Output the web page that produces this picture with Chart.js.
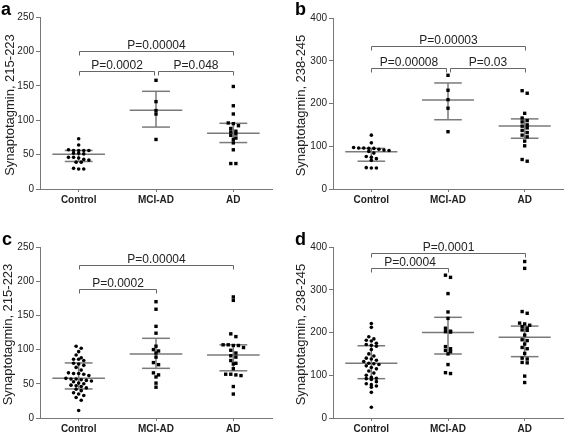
<!DOCTYPE html>
<html>
<head>
<meta charset="utf-8">
<script src="https://cdn.jsdelivr.net/npm/chart.js@4"></script>
<style>
  body { margin: 0; background: #fff; }
  .panel { position: absolute; }
</style>
</head>
<body>
<div class="panel" style="left:0;top:0"><canvas id="chartA" width="284" height="217"></canvas></div>
<div class="panel" style="left:284px;top:0"><canvas id="chartB" width="283" height="217"></canvas></div>
<div class="panel" style="left:0;top:217px"><canvas id="chartC" width="284" height="217"></canvas></div>
<div class="panel" style="left:284px;top:217px"><canvas id="chartD" width="283" height="217"></canvas></div>
<script>
const groups = ['Control', 'MCI-AD', 'AD'];

// panel a
const aControl = [73, 64, 57, 56, 56, 56, 56, 52, 52, 51, 46, 46, 45, 43, 42, 39, 39, 30, 29, 29];
const aMciAd = [158, 127, 114, 109, 72];
const aAd = [149, 121, 109, 96, 95, 92, 88, 84, 83, 80, 78, 74, 72, 67, 57, 37, 37];
const aCenter = [50.5, 114.6, 81];
const aLow = [40, 90, 67.5];
const aHigh = [56, 142, 95.5];
const aTicks = [0, 50, 100, 150, 200, 250];
const aBrackets = [[0, 2, 201, 'P=0.00004'], [0, 0.98, 172, 'P=0.0002'], [1.02, 2, 172, 'P=0.048']];

// panel b
const bControl = [126, 108, 97, 96, 96, 95, 95, 93, 91, 90, 88, 84, 76, 74, 71, 67, 50, 49, 49];
const bMciAd = [266, 231, 209, 189, 134];
const bAd = [230, 224, 177, 166, 160, 157, 150, 147, 143, 137, 132, 126, 122, 112, 101, 69, 65];
const bCenter = [87, 208, 147.6];
const bLow = [65, 162, 118.7];
const bHigh = [95, 248, 164];
const bTicks = [0, 100, 200, 300, 400];
const bBrackets = [[0, 2, 334, 'P=0.00003'], [0, 0.98, 283, 'P=0.00008'], [1.02, 2, 283, 'P=0.03']];

// panel c
const cControl = [105, 102, 97, 92, 88, 86, 86, 84, 80, 79, 77, 74, 70, 66, 65, 65, 64, 62, 58, 57,
                  57, 56, 55, 54, 53, 51, 50, 48, 47, 46, 44, 42, 40, 37, 35, 33, 30, 26, 11];
const cMciAd = [170, 159, 134, 124, 105, 100, 98, 95, 89, 81, 78, 66, 63, 60, 51, 45];
const cAd = [177, 172, 123, 119, 107, 107, 106, 106, 103, 99, 95, 91, 89, 84, 80, 79, 72, 64, 64, 63, 62, 46, 35];
const cCenter = [58, 93.6, 92];
const cLow = [42.5, 72.6, 69];
const cHigh = [80.5, 116.5, 107];
const cTicks = [0, 50, 100, 150, 200, 250];
const cBrackets = [[0, 2, 224, 'P=0.00004'], [0, 1, 189, 'P=0.0002']];

// panel d
const dControl = [221, 212, 190, 185, 182, 180, 175, 172, 170, 168, 160, 150, 145, 140, 138, 135, 132, 128, 127,
                  125, 122, 118, 115, 110, 105, 100, 95, 93, 92, 90, 85, 80, 78, 75, 72, 60, 25];
const dMciAd = [334, 329, 291, 248, 233, 210, 203, 202, 201, 167, 162, 158, 155, 150, 125, 106, 104];
const dAd = [366, 350, 249, 245, 222, 220, 217, 214, 210, 206, 205, 194, 183, 181, 173, 165, 162, 151, 140, 138, 130, 129, 98, 83];
const dCenter = [128, 200, 188.7];
const dLow = [92, 149.7, 143.5];
const dHigh = [169, 235.5, 215];
const dTicks = [0, 100, 200, 300, 400];
const dBrackets = [[0, 2, 387, 'P=0.0001'], [0, 1, 352, 'P=0.0004']];

const FONT = '"Liberation Sans", Arial, sans-serif';

// GraphPad style scatter: values closer than a marker go side by side in one row
function spread(vals, gi, yMax, plotH) {
  const tol = yMax / plotH * 3;
  const sorted = [...vals].sort((a, b) => b - a);
  const pts = [];
  let row = [];
  const flush = () => {
    row.forEach((v, i) => pts.push({ x: gi + (i - (row.length - 1) / 2) * 0.066, y: v }));
    row = [];
  };
  sorted.forEach(v => {
    if (row.length && row[0] - v > tol) flush();
    row.push(v);
  });
  flush();
  return pts;
}

function makePanel(id, p) {
  const plotH = p.height - p.top - p.xh;
  const yMax = p.ticks[p.ticks.length - 1];
  const datasets = p.values.map((vals, gi) => ({
    data: spread(vals, gi, yMax, plotH),
    pointStyle: gi === 0 ? 'circle' : 'rect',
    pointRadius: gi === 0 ? 1.8 : 2.4,
    backgroundColor: '#000',
    borderWidth: 0
  }));

  const extras = {
    id: 'extras',
    beforeDatasetsDraw(chart) {
      const ctx = chart.ctx, xs = chart.scales.x, ys = chart.scales.y;
      ctx.save();
      ctx.strokeStyle = '#7a7a7a';
      ctx.lineWidth = 1.5;
      p.center.forEach((c, gi) => {
        const x = xs.getPixelForValue(gi);
        const line = (w, v) => {
          ctx.beginPath();
          ctx.moveTo(xs.getPixelForValue(gi - w), ys.getPixelForValue(v));
          ctx.lineTo(xs.getPixelForValue(gi + w), ys.getPixelForValue(v));
          ctx.stroke();
        };
        line(0.34, c);
        line(0.18, p.low[gi]);
        line(0.18, p.high[gi]);
        ctx.beginPath();
        ctx.moveTo(x, ys.getPixelForValue(p.low[gi]));
        ctx.lineTo(x, ys.getPixelForValue(p.high[gi]));
        ctx.stroke();
      });
      ctx.restore();
    },
    afterDatasetsDraw(chart) {
      const ctx = chart.ctx, xs = chart.scales.x, ys = chart.scales.y, area = chart.chartArea;
      ctx.save();
      // significance brackets
      ctx.strokeStyle = '#666';
      ctx.lineWidth = 1;
      ctx.fillStyle = '#222';
      ctx.font = '12px ' + FONT;
      ctx.textAlign = 'center';
      ctx.textBaseline = 'alphabetic';
      p.brackets.forEach(([from, to, v, label]) => {
        const x1 = Math.round(xs.getPixelForValue(from)) + 0.5;
        const x2 = Math.round(xs.getPixelForValue(to)) + 0.5;
        const y = Math.round(ys.getPixelForValue(v)) + 0.5;
        ctx.beginPath();
        ctx.moveTo(x1, y + 4);
        ctx.lineTo(x1, y);
        ctx.lineTo(x2, y);
        ctx.lineTo(x2, y + 4);
        ctx.stroke();
        ctx.fillText(label, (x1 + x2) / 2, y - 3);
      });
      // y title
      ctx.font = '13px ' + FONT;
      ctx.translate(p.titleX, (area.top + area.bottom) / 2 + 2);
      ctx.rotate(-Math.PI / 2);
      ctx.textBaseline = 'middle';
      ctx.fillText(p.title, 0, 0);
      ctx.restore();
      // panel letter
      ctx.save();
      ctx.font = 'bold 18px ' + FONT;
      ctx.fillStyle = '#000';
      ctx.textAlign = 'left';
      ctx.fillText(p.letter, p.letterX, p.letterY);
      ctx.restore();
    }
  };

  new Chart(document.getElementById(id), {
    type: 'scatter',
    data: { datasets },
    options: {
      responsive: false,
      animation: false,
      layout: { padding: { top: p.top, right: p.right, left: 0, bottom: 0 } },
      plugins: { legend: { display: false }, tooltip: { enabled: false } },
      scales: {
        x: {
          type: 'linear', min: -0.5, max: 2.5,
          afterBuildTicks: s => { s.ticks = [0, 1, 2].map(v => ({ value: v })); },
          afterFit: s => { s.height = p.xh; },
          grid: { display: true, drawOnChartArea: false, drawTicks: true, tickLength: 3, color: '#777' },
          border: { color: '#777', width: 1 },
          ticks: {
            callback: v => groups[v], autoSkip: false, maxRotation: 0, padding: 2,
            color: '#222', font: { family: FONT, weight: 'bold', size: 10 }
          }
        },
        y: {
          min: 0, max: yMax,
          afterBuildTicks: s => { s.ticks = p.ticks.map(v => ({ value: v })); },
          afterFit: s => { s.width = p.left; },
          grid: { display: true, drawOnChartArea: false, drawTicks: true, tickLength: 4, color: '#777' },
          border: { color: '#777', width: 1 },
          ticks: { padding: 2, color: '#222', font: { family: FONT, size: 10 } }
        }
      }
    },
    plugins: [extras]
  });
}

makePanel('chartA', {
  values: [aControl, aMciAd, aAd], center: aCenter, low: aLow, high: aHigh, ticks: aTicks, brackets: aBrackets,
  title: 'Synaptotagmin, 215-223', letter: 'a',
  height: 217, top: 17, xh: 28, left: 40, right: 12, titleX: 10, letterX: 1, letterY: 15
});
makePanel('chartB', {
  values: [bControl, bMciAd, bAd], center: bCenter, low: bLow, high: bHigh, ticks: bTicks, brackets: bBrackets,
  title: 'Synaptotagmin, 238-245', letter: 'b',
  height: 217, top: 18, xh: 28, left: 49, right: 3, titleX: 17, letterX: 11, letterY: 15
});
makePanel('chartC', {
  values: [cControl, cMciAd, cAd], center: cCenter, low: cLow, high: cHigh, ticks: cTicks, brackets: cBrackets,
  title: 'Synaptotagmin, 215-223', letter: 'c',
  height: 217, top: 30, xh: 16, left: 40, right: 12, titleX: 8, letterX: 2, letterY: 28
});
makePanel('chartD', {
  values: [dControl, dMciAd, dAd], center: dCenter, low: dLow, high: dHigh, ticks: dTicks, brackets: dBrackets,
  title: 'Synaptotagmin, 238-245', letter: 'd',
  height: 217, top: 30, xh: 16, left: 49, right: 3, titleX: 17, letterX: 11, letterY: 28
});
</script>
</body>
</html>
